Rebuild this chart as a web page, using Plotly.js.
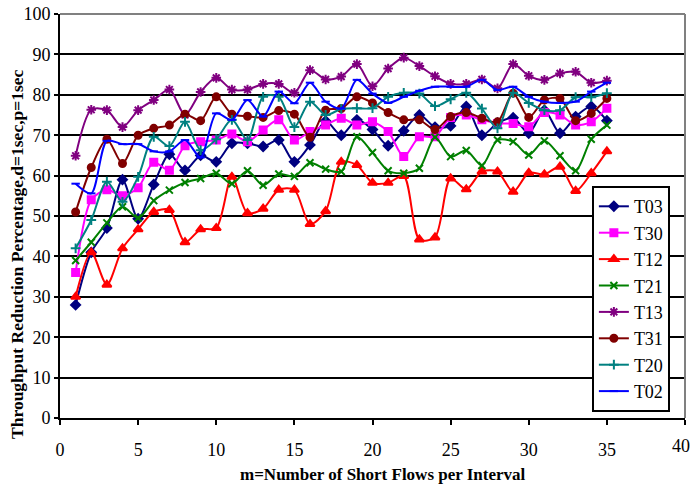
<!DOCTYPE html>
<html>
<head>
<meta charset="utf-8">
<script src="https://cdn.plot.ly/plotly-3.0.1.min.js"></script>
<style>html,body{margin:0;padding:0;background:#fff;}#chart{width:692px;height:485px;}</style>
</head>
<body>
<div id="chart"></div>
<script>
var m = [1,2,3,4,5,6,7,8,9,10,11,12,13,14,15,16,17,18,19,20,21,22,23,24,25,26,27,28,29,30,31,32,33,34,35];
var T03 = [28,41,47,59,49.3,57.8,65.3,61.3,65,63.4,68,68,67.2,68.8,63.4,67.6,73.5,70,73.8,71.4,67.4,71.1,75,72,72.3,77.1,70,73,74.3,70.5,76.2,70.5,74.6,77.1,73.6];
var T30 = [36,54,56.5,55,57,63.3,61.3,67.4,68.4,68.8,70.3,68.4,71.3,73.8,68.8,70.9,72.5,74.2,72.5,73.3,70.9,64.7,69.6,69.6,74.4,75,73.8,72.9,72.9,72.1,75.6,75,72.5,73.3,76.7];
var T12 = [30,41,33,42,46.7,51,51.5,43.5,46.7,47,59.7,50.7,51.8,56.5,56.5,48,51.2,63.4,62.6,58.2,58.2,59.9,44.2,44.7,59.3,56.6,61,61,56,60.7,60.3,62.2,56.2,60.6,66];
var T21 = [39,43.5,48.3,52.3,49.5,53.8,56.4,58.3,59.3,60.6,58,61.2,57.6,60.4,59.8,63.2,61.6,61,69.6,65.7,61.2,60.6,61.8,69.5,64.7,66.2,62.5,68.8,68.4,65.1,68.6,64.9,61.2,69,72.5];
var T13 = [64.9,76.3,76.2,72,76.2,78.7,81.3,75,80.7,84.2,81.3,81.3,82.7,82.7,80.5,86.1,83.8,84.5,87.6,82.1,86.5,89.2,87.1,84.6,82.7,82.7,83.8,81.6,87.6,84.7,83.7,85.3,85.7,83,83.5];
var T31 = [51,62,69,63,70,71.7,72.5,75.2,73.6,79.5,75.2,74.7,74.4,76.1,75.2,69.5,76.2,76.6,79.5,78,75.6,73.8,73.8,71.4,74.6,75.6,74.2,73.3,80.4,74.4,78.7,79.1,73.6,75.4,79.1];
var T20 = [42,49,58.5,53.5,59.7,69.6,67.3,73.3,66.3,69,73.8,68.8,79.5,79.5,72,78.3,75,76.5,76.7,76.7,79.5,80.5,80.3,77.2,78.9,80.5,76.6,71.7,80.5,78,76.2,76.2,79.4,79.4,80.4];
var T02 = [58,55.6,68.6,67.8,67.8,66,66,68.8,64.5,75.4,73.8,78.7,74.6,80.8,77.9,83,78.3,76.6,83.7,80.3,78,79.5,81,82,82,82,83.7,81.2,82,79.5,78.3,78,78.3,80.8,83];

var xTickVals = [0,5,10,15,20,25,30,35,40];
var xTickText = ["0","5","10","15","20","25","30","35",""];
var xLastTick = "40";
var xTitle = "m=Number of Short Flows per Interval";
var yTitle = "Throughput Reduction Percentage,d=1sec,p=1sec";
var names = ["T03","T30","T12","T21","T13","T31","T20","T02"];
var series = [T03,T30,T12,T21,T13,T31,T20,T02];
var colors = ["#000080","#FF00FF","#FF0000","#008000","#800080","#800000","#008080","#0000FF"];
var symbols = ["diamond","square","triangle-up","x-thin-open","asterisk-open","circle","cross-thin-open","line-ew-open"];
var sizes = [7,7,8,7,8,7,7,6];

var traces = series.map(function(ys,i){
  return {
    x: m, y: ys, name: names[i], type: "scatter", mode: "lines+markers",
    line: {color: colors[i], width: 2, shape: "spline", smoothing: 0.8},
    marker: {symbol: symbols[i], size: sizes[i], color: colors[i], line: {color: colors[i], width: 2}}
  };
});

var serif = "'Liberation Serif', 'Times New Roman', serif";
var layout = {
  width: 692, height: 485,
  margin: {l: 60, r: 7, t: 14, b: 67},
  paper_bgcolor: "#fff", plot_bgcolor: "#fff",
  font: {family: serif, color: "#000", size: 18},
  showlegend: true,
  legend: {x: 0.851, y: 0.574, xanchor: "left", yanchor: "top", bgcolor: "#fff",
           bordercolor: "#000", borderwidth: 2, font: {family: serif, size: 18}, itemwidth: 30,
           tracegroupgap: 0},
  xaxis: {range: [0,40], tickmode: "array", tickvals: xTickVals, ticktext: xTickText,
          showgrid: false, zeroline: false,
          showline: true, linecolor: "#000", linewidth: 2, ticks: "outside", ticklen: 5,
          tickwidth: 2, tickcolor: "#000", tickfont: {family: serif, size: 18}, ticklabelstandoff: 9},
  yaxis: {range: [0,100], tick0: 0, dtick: 10, showgrid: true, gridcolor: "#000", gridwidth: 2,
          zeroline: false, showline: true, linecolor: "#000", linewidth: 2, ticks: "outside",
          ticklen: 4, tickwidth: 2, tickcolor: "#000", tickfont: {family: serif, size: 18},
          ticklabeloverflow: "allow"},
  annotations: [
    {text: xLastTick, xref: "paper", yref: "paper", x: 1.011, y: -0.069,
     xanchor: "right", yanchor: "middle", showarrow: false, font: {family: serif, size: 18}},
    {text: "<b>" + xTitle + "</b>", xref: "paper", yref: "paper", x: 0.517, y: -0.141,
     xanchor: "center", yanchor: "middle", showarrow: false, font: {family: serif, size: 17}},
    {text: "<b>" + yTitle + "</b>", xref: "paper", yref: "paper", x: -0.0688, y: 0.406,
     xanchor: "center", yanchor: "middle", textangle: -90, showarrow: false, font: {family: serif, size: 17.5}}
  ],
  shapes: [
    {type: "line", xref: "paper", yref: "paper", x0: 0, x1: 1, y0: 1, y1: 1, line: {color: "#808080", width: 2}, layer: "above"},
    {type: "line", xref: "paper", yref: "paper", x0: 1, x1: 1, y0: 0, y1: 1, line: {color: "#808080", width: 2}, layer: "above"}
  ]
};

Plotly.newPlot("chart", traces, layout, {displayModeBar: false, staticPlot: true});
</script>
</body>
</html>
